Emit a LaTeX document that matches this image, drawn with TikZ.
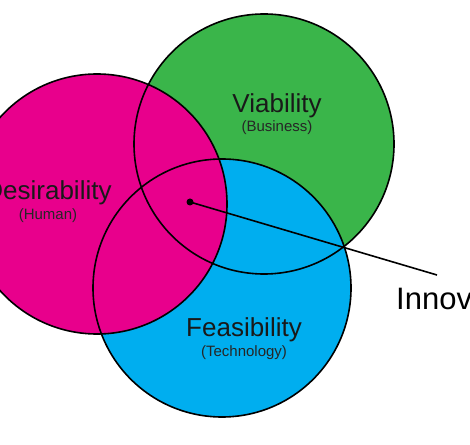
\documentclass[tikz,border=0pt]{standalone}
\usepackage{fontspec}
\setmainfont{Liberation Sans}
\usepackage{tikz}
\usetikzlibrary{calc,positioning}

\definecolor{desirepink}{RGB}{232,0,140}
\definecolor{viagreen}{RGB}{58,181,74}
\definecolor{feasblue}{RGB}{0,174,239}

\tikzset{
    bigtext/.style={anchor=base,text=black!90,font=\fontsize{26}{30}\selectfont,inner sep=0pt},
    smalltext/.style={anchor=base,text=black!85,font=\fontsize{15}{18}\selectfont,inner sep=0pt},
    ring/.style={line width=1.6pt}
}

\begin{document}
\begin{tikzpicture}[x=1pt,y=1pt]
                \useasboundingbox (0,0) rectangle (470,444);
                \clip (0,0) rectangle (470,444);
                \coordinate (p) at (97,240);
                \coordinate (g) at (264,300);
                \coordinate (b) at (222,156);

                % fills first: green under blue under pink
                \fill[viagreen] (g) circle (130);
                \fill[feasblue] (b) circle (129);
                \fill[desirepink] (p) circle (130);

                \draw[ring] (g) circle (130);
                \draw[ring] (b) circle (129);
                \draw[ring] (p) circle (130);

                \node[bigtext] at (277,331) (via) {Viability};
                \node[smalltext] at (277,312) (bus) {(Business)};
                \node[bigtext] at (48,244) (des) {Desirability};
                \node[smalltext] at (48,224) (hum) {(Human)};
                \node[bigtext] at (244,107) (fea) {Feasibility};
                \node[smalltext] at (244,88) (tec) {(Technology)};

                \node[circle,fill=black,inner sep=0pt,minimum size=7pt] at (190,242) (dot) {};
                \coordinate (tail) at (437,169);
                \draw[line width=1.6pt] (dot.center) -- (tail);
                \node[anchor=base west,inner sep=0pt,font=\fontsize{31}{36}\selectfont] at (396,135) (inn) {Innovation};
            \end{tikzpicture}
\end{document}
